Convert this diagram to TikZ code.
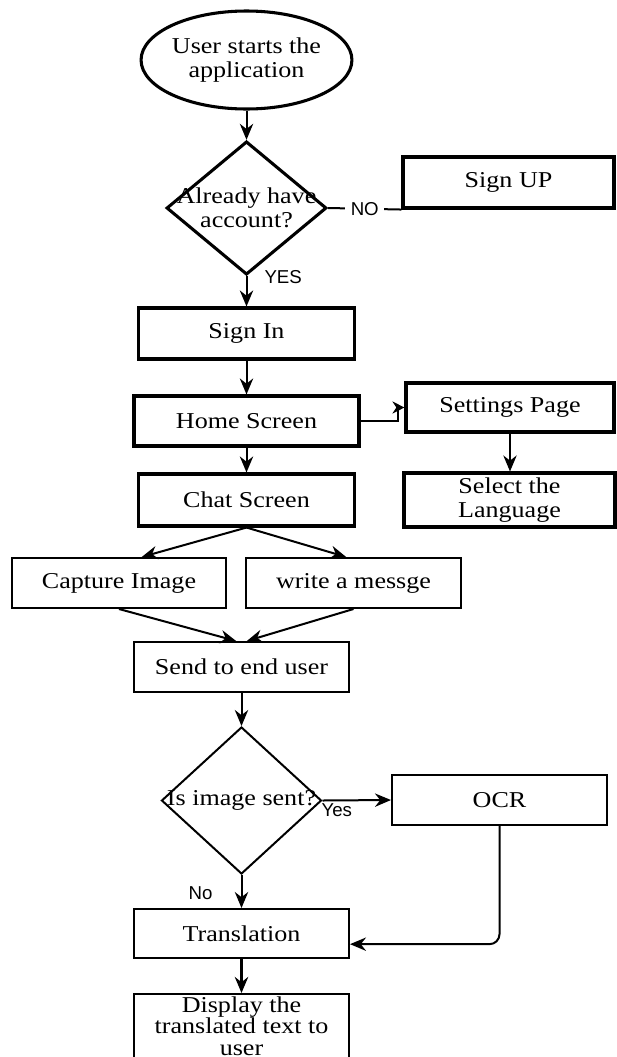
\documentclass[tikz,border=0pt]{standalone}
\usepackage{fontspec}
\setmainfont{Liberation Serif}[FakeStretch=1.15]
\newfontfamily\etiqfont{Liberation Sans}
\usetikzlibrary{shapes.geometric, arrows.meta}

\begin{document}
\begin{tikzpicture}[x=0.75pt, y=-0.75pt,
  every node/.style={font=\fontsize{17}{18}\selectfont},
  caja/.style={draw, rectangle, inner sep=0pt, align=center, line width=1.5pt, minimum width=161.25pt, minimum height=37.5pt},
  cajagruesa/.style={caja, line width=2.3pt},
  flecha/.style={-{Stealth[length=12pt, width=10pt]}, line width=1.5pt},
  etiq/.style={inner sep=0pt, font=\etiqfont\fontsize{14}{16}\selectfont}]

\useasboundingbox (0,0) rectangle (617,1057);

% Inicio y pregunta de cuenta
\node[draw, ellipse, line width=2.3pt, minimum width=145pt, minimum height=73.5pt, inner sep=0pt, align=center] (inicio) at (246.5,60) {User starts the\\application};
\node[draw, diamond, line width=2.3pt, minimum width=120pt, minimum height=100pt, inner sep=0pt] (cuenta) at (246.5,208) {};
\node[align=center, inner sep=0pt] (cuentatxt) at (cuenta) {Already have\\account?};
\node[cajagruesa, minimum width=158.25pt, minimum height=38.25pt] (signup) at (508.5,182.5) {Sign UP};

% Columna principal
\node[cajagruesa, minimum width=162pt, minimum height=38.25pt] (signin) at (246.5,333.5) {Sign In};
\node[cajagruesa, minimum width=168.75pt] (home) at (246.5,421) {Home Screen};
\node[cajagruesa, minimum width=162pt, minimum height=39pt] (chat) at (246.5,500) {Chat Screen};

% Ajustes
\node[cajagruesa, minimum width=156pt, minimum height=36.75pt] (settings) at (510,407.5) {Settings Page};
\node[cajagruesa, minimum width=158.25pt, minimum height=40.5pt] (select) at (509.5,500) {Select the\\Language};

% Mensajes
\node[caja, minimum width=160.5pt] (capture) at (119,583) {Capture Image};
\node[caja] (write) at (353.5,583) {write a messge};
\node[caja] (send) at (241.5,667) {Send to end user};

% Imagen y traduccion
\node[draw, diamond, line width=1.5pt, minimum width=120pt, minimum height=110.25pt, inner sep=0pt] (imagen) at (241.5,800.5) {};
\node[inner sep=0pt] (imagentxt) at (imagen) {Is image sent?};
\node[caja] (ocr) at (499.5,800) {OCR};
\node[caja, minimum height=36.75pt] (transl) at (241.5,933.5) {Translation};
\node[caja, anchor=north, minimum height=48pt, font=\fontsize{17}{16}\selectfont] (display) at (241.5,993) {Display the\\translated text to\\user};

% Conectores
\draw[flecha] (inicio.south) -- (cuenta.north);
\draw[line width=1.5pt] (cuenta.east) -- node[etiq, fill=white, inner xsep=4pt] (lblno) {NO} (signup.south west);
\draw[flecha] (cuenta.south) -- node[etiq, pos=0.03, anchor=west, xshift=12.75pt] (lblyes) {YES} (signin.north);
\draw[flecha] (signin) -- (home);
\draw[flecha] (home) -- (chat);
\draw[-{Stealth[length=9pt, width=9pt]}, line width=1.5pt] (home.east) -- ++(37,0) |- (settings.west);
\draw[flecha] (settings.south) -- (settings.south |- select.north);
\draw[flecha] (chat.south) -- ([xshift=17pt]capture.north);
\draw[flecha] (chat.south) -- ([xshift=-5.5pt]write.north);
\draw[flecha] (capture.south) -- ([xshift=-4pt]send.north);
\draw[flecha] (write.south) -- ([xshift=4pt]send.north);
\draw[flecha] (send) -- (imagen);
\draw[flecha] (imagen.east) -- node[etiq, pos=0, anchor=north west, xshift=-1.5pt, yshift=-1.5pt] (lblyes2) {Yes} (ocr.west);
\draw[flecha] (imagen.south) -- node[etiq, pos=0.54, anchor=east, xshift=-21pt] (lblno2) {No} (transl.north);
\draw[flecha, rounded corners=7.5pt] (ocr.south) |- ([yshift=-8pt]transl.east);
\draw[flecha, line width=2.3pt] (transl) -- (display);

\end{tikzpicture}
\end{document}
